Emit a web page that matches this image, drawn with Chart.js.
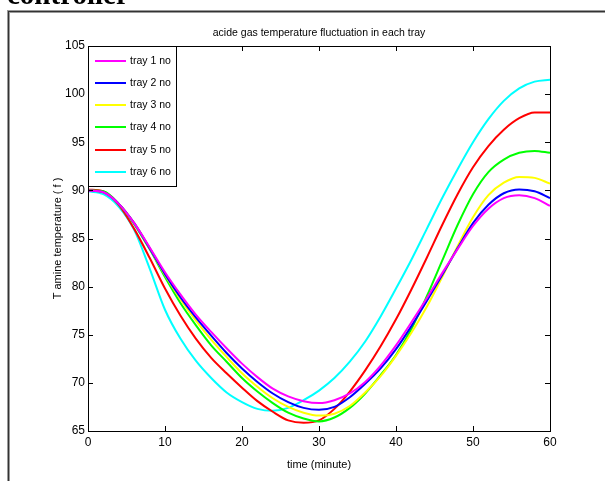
<!DOCTYPE html>
<html>
<head>
<meta charset="utf-8">
<script src="https://cdn.jsdelivr.net/npm/chart.js@4.4.0/dist/chart.umd.min.js"></script>
<style>
    html, body { margin: 0; padding: 0; background: #fff; overflow: hidden; }
    #wrap { position: relative; width: 605px; height: 481px; }
    #temp-chart { position: absolute; left: 0; top: 0; }
    .frame { position: absolute; left: 7px; top: 10px; width: 700px; height: 600px;
             border-top: 3px solid #9a9a9a; border-left: 3px solid #9a9a9a; }
    .frame-in { position: absolute; left: 8px; top: 11px; width: 700px; height: 600px;
                border-top: 1px solid #333; border-left: 1px solid #333; }
    #caption { position: absolute; left: 7px; top: -20px; font: bold 29px 'Liberation Serif', 'Times New Roman', serif;
               line-height: 29px; color: #000; white-space: nowrap; }
</style>
</head>
<body>
<div id="wrap">
    <canvas id="temp-chart" width="605" height="481"></canvas>
    <div class="frame"></div>
    <div class="frame-in"></div>
    <div id="caption">controller</div>
</div>
<script>
// time axis (minute)
const minutes = [0, 2, 4, 6, 8, 10, 12, 14, 16, 18, 20, 22, 24, 26, 28, 30,
                 32, 34, 36, 38, 40, 42, 44, 46, 48, 50, 52, 54, 56, 58, 60];

// temperature of each tray
const tray1 = [90.0, 89.8, 88.6, 86.6, 84.1, 81.5, 79.2, 77.1, 75.3, 73.6, 72.0, 70.6, 69.4, 68.6, 68.1, 67.9,
               68.2, 68.9, 70.1, 71.8, 73.9, 76.3, 78.8, 81.4, 83.9, 86.3, 88.1, 89.2, 89.5, 89.2, 88.4];
const tray2 = [90.0, 89.8, 88.6, 86.6, 84.0, 81.3, 78.9, 76.8, 74.9, 73.1, 71.5, 70.1, 68.9, 68.0, 67.4, 67.2,
               67.5, 68.5, 69.9, 71.5, 73.5, 75.9, 78.5, 81.2, 84.0, 86.6, 88.5, 89.7, 90.1, 89.9, 89.2];
const tray3 = [90.0, 89.8, 88.6, 86.6, 84.0, 81.2, 78.7, 76.5, 74.5, 72.7, 71.0, 69.6, 68.4, 67.5, 66.9, 66.6,
               66.8, 67.6, 69.0, 70.7, 72.8, 75.2, 77.9, 81.0, 84.2, 87.2, 89.5, 90.8, 91.4, 91.3, 90.7];
const tray4 = [90.0, 89.9, 88.6, 86.5, 83.9, 81.0, 78.3, 76.0, 73.9, 72.2, 70.5, 69.1, 67.9, 66.9, 66.3, 66.0,
               66.4, 67.4, 68.9, 70.8, 72.9, 75.6, 79.0, 82.7, 86.4, 89.6, 91.9, 93.2, 93.9, 94.1, 93.9];
const tray5 = [90.1, 89.9, 88.5, 86.0, 83.0, 79.8, 77.0, 74.6, 72.6, 71.0, 69.5, 68.1, 67.0, 66.1, 65.85, 66.1,
               67.3, 69.1, 71.3, 73.8, 76.6, 79.7, 83.0, 86.4, 89.6, 92.4, 94.6, 96.3, 97.5, 98.1, 98.1];
const tray6 = [89.9, 89.6, 88.3, 85.9, 81.9, 77.6, 74.6, 72.3, 70.5, 69.0, 68.0, 67.3, 67.1, 67.4, 68.2, 69.2,
               70.5, 72.2, 74.3, 76.9, 79.8, 82.8, 86.0, 89.2, 92.2, 95.0, 97.4, 99.3, 100.6, 101.3, 101.5];

const trayLabels = ['tray 1 no', 'tray 2 no', 'tray 3 no', 'tray 4 no', 'tray 5 no', 'tray 6 no'];
const trayColors = ['#ff00ff', '#0000ff', '#ffff00', '#00ff00', '#ff0000', '#00ffff'];

// tick labels
const xTicks = [0, 10, 20, 30, 40, 50, 60];
const yTicks = [65, 70, 75, 80, 85, 90, 95, 100, 105];

const FONT = "Arial, 'Liberation Sans', sans-serif";

// MATLAB style box with inward ticks on all four sides
const axesBox = {
    id: 'axesBox',
    afterDatasetsDraw(chart) {
        const { ctx, chartArea: a, scales } = chart;
        ctx.save();
        ctx.strokeStyle = '#000';
        ctx.lineWidth = 1;
        ctx.strokeRect(Math.round(a.left) + 0.5, Math.round(a.top) + 0.5,
                       Math.round(a.right - a.left), Math.round(a.bottom - a.top));
        ctx.beginPath();
        scales.x.ticks.forEach(t => {
            const px = Math.round(scales.x.getPixelForValue(t.value)) + 0.5;
            ctx.moveTo(px, a.bottom); ctx.lineTo(px, a.bottom - 5);
            ctx.moveTo(px, a.top); ctx.lineTo(px, a.top + 5);
        });
        scales.y.ticks.forEach(t => {
            const py = Math.round(scales.y.getPixelForValue(t.value)) + 0.5;
            ctx.moveTo(a.left, py); ctx.lineTo(a.left + 5, py);
            ctx.moveTo(a.right, py); ctx.lineTo(a.right - 5, py);
        });
        ctx.stroke();
        ctx.restore();
    }
};

// legend box inside the upper left corner of the axes
const legendInside = {
    id: 'legendInside',
    afterDraw(chart) {
        const { ctx, chartArea: a } = chart;
        const x0 = Math.round(a.left), y0 = Math.round(a.top);
        const w = 88, h = 140, rowH = 22.2;
        ctx.save();
        ctx.fillStyle = '#fff';
        ctx.fillRect(x0, y0, w, h);
        ctx.strokeStyle = '#000';
        ctx.lineWidth = 1;
        ctx.strokeRect(x0 + 0.5, y0 + 0.5, w, h);
        chart.data.datasets.forEach((ds, i) => {
            const y = Math.round(y0 + 14.7 + i * rowH);
            ctx.strokeStyle = ds.borderColor;
            ctx.lineWidth = 2;
            ctx.beginPath();
            ctx.moveTo(x0 + 7, y);
            ctx.lineTo(x0 + 38, y);
            ctx.stroke();
            ctx.fillStyle = '#000';
            ctx.font = '10.5px ' + FONT;
            ctx.textBaseline = 'middle';
            ctx.fillText(ds.label, x0 + 42, y);
        });
        ctx.restore();
    }
};

function buildDatasets() {
    const series = [tray1, tray2, tray3, tray4, tray5, tray6];
    return series.map((values, i) => ({
        label: trayLabels[i],
        data: values.map((v, j) => ({ x: minutes[j], y: v })),
        borderColor: trayColors[i],
        backgroundColor: trayColors[i],
        borderWidth: 2,
        pointRadius: 0,
        cubicInterpolationMode: 'monotone',
        fill: false
    }));
}

function initializeChart() {
    const ctx = document.getElementById('temp-chart').getContext('2d');
    new Chart(ctx, {
        type: 'line',
        data: { datasets: buildDatasets() },
        options: {
            responsive: false,
            animation: false,
            layout: { padding: { left: 0, right: 55, top: 0, bottom: 0 } },
            plugins: {
                legend: { display: false },
                tooltip: { enabled: false },
                title: {
                    display: true,
                    fullSize: false,
                    text: 'acide gas temperature fluctuation in each tray',
                    color: '#000',
                    font: { family: FONT, size: 10.5, weight: 'normal', lineHeight: 1.2 },
                    padding: { top: 26.7, bottom: 6.7 }
                }
            },
            scales: {
                x: {
                    type: 'linear',
                    min: 0,
                    max: 60,
                    afterBuildTicks: s => { s.ticks = xTicks.map(v => ({ value: v })); },
                    afterFit: s => { s.height = 50; },
                    grid: { display: false, drawTicks: false },
                    border: { display: false },
                    ticks: { color: '#000', padding: 4, maxRotation: 0, font: { family: FONT, size: 12 } },
                    title: {
                        display: true,
                        text: 'time (minute)',
                        color: '#000',
                        font: { family: FONT, size: 11, lineHeight: 1.2 },
                        padding: { top: 0, bottom: 9.4 }
                    }
                },
                y: {
                    min: 65,
                    max: 105,
                    afterBuildTicks: s => { s.ticks = yTicks.map(v => ({ value: v })); },
                    afterFit: s => { s.width = 88; },
                    grid: { display: false, drawTicks: false },
                    border: { display: false },
                    ticks: { color: '#000', padding: 3, font: { family: FONT, size: 12 } },
                    title: {
                        display: true,
                        text: 'T amine temperature ( f )',
                        color: '#000',
                        font: { family: FONT, size: 11, lineHeight: 1.2 },
                        padding: { top: 51.4, bottom: 0 }
                    }
                }
            }
        },
        plugins: [axesBox, legendInside]
    });
}

window.onload = initializeChart;
</script>
</body>
</html>
